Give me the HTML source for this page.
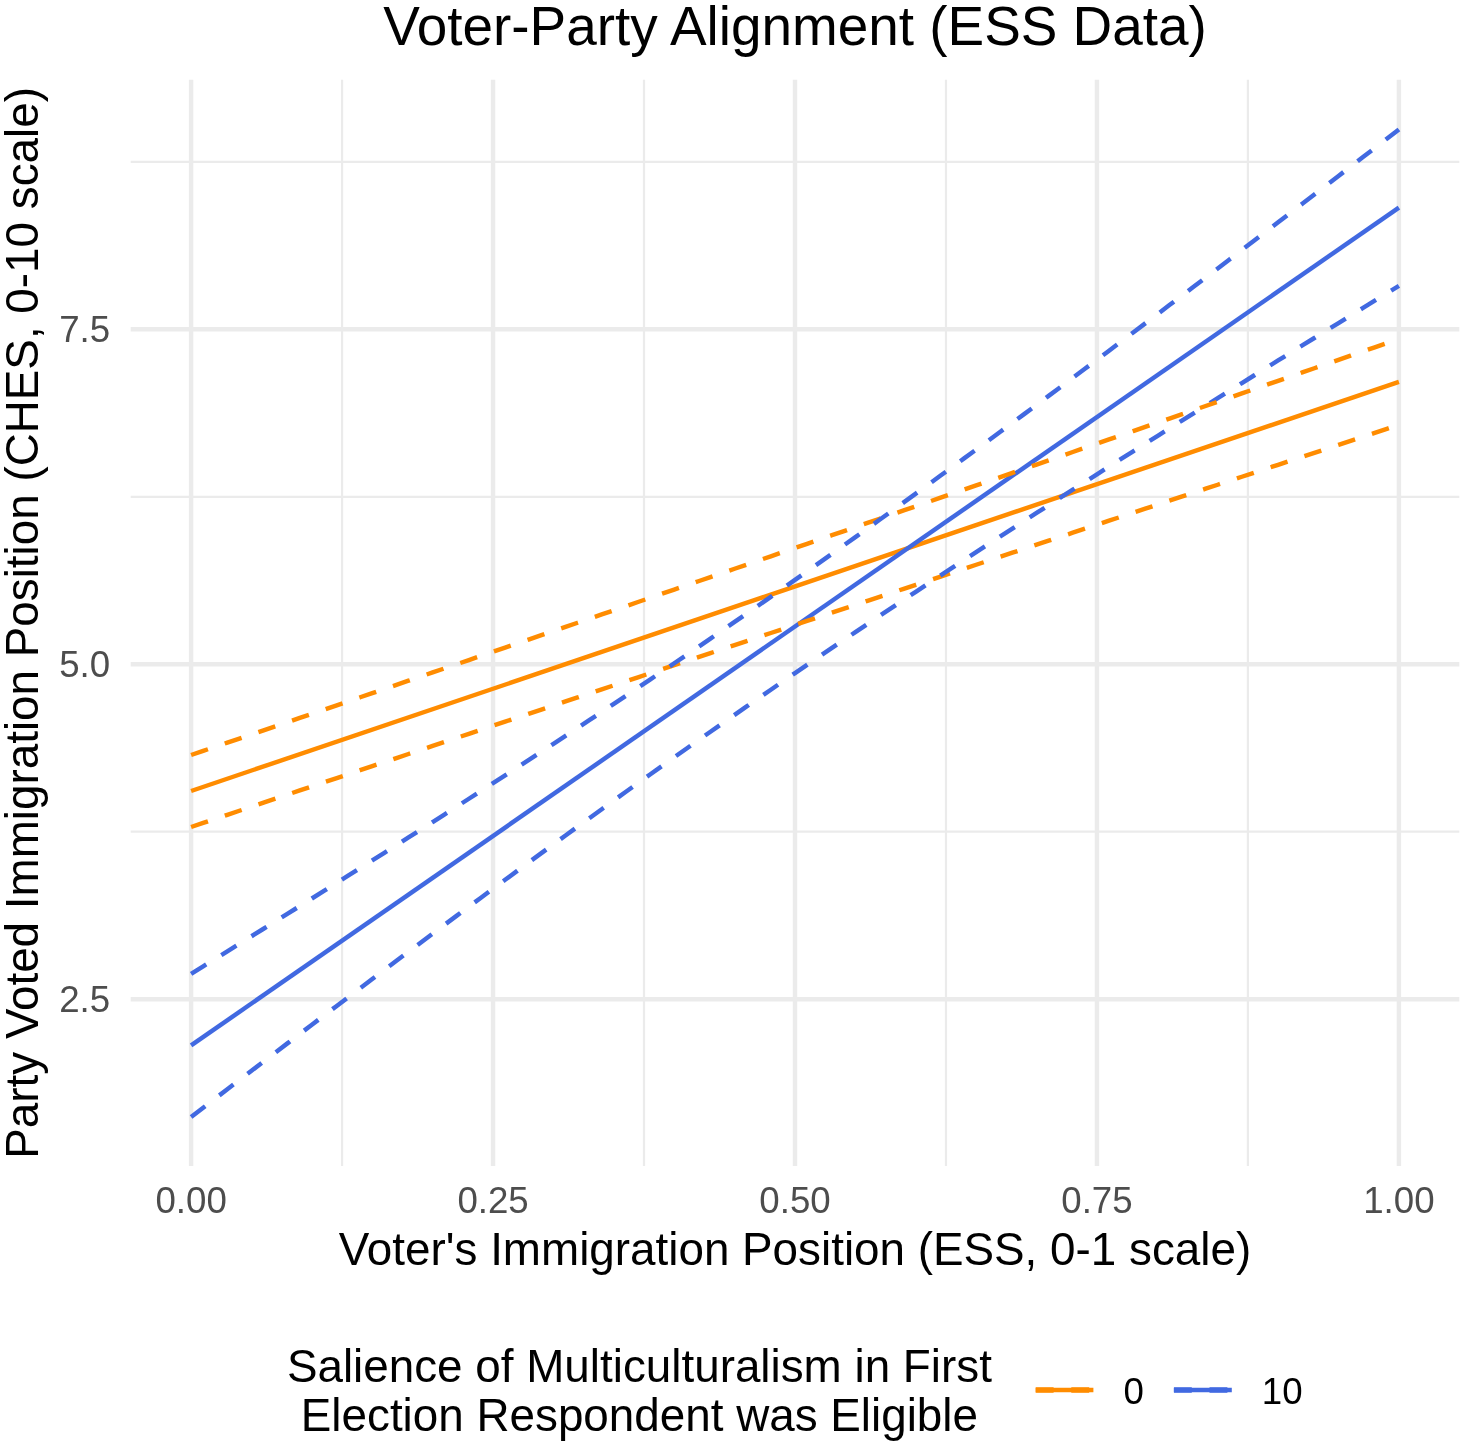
<!DOCTYPE html>
<html><head><meta charset="utf-8"><title>Voter-Party Alignment</title>
<style>html,body{margin:0;padding:0;background:#fff;}body{width:1464px;height:1445px;overflow:hidden;}svg{display:block;will-change:transform;}text{font-family:"Liberation Sans",sans-serif;}</style>
</head><body>
<svg width="1464" height="1445" viewBox="0 0 1464 1445">
<rect width="1464" height="1445" fill="#fff"/>
<g stroke="#EBEBEB" stroke-width="2.22" fill="none">
<line x1="130.70" x2="1459.30" y1="831.73" y2="831.73"/>
<line x1="130.70" x2="1459.30" y1="496.78" y2="496.78"/>
<line x1="130.70" x2="1459.30" y1="161.83" y2="161.83"/>
<line x1="342.07" x2="342.07" y1="79.80" y2="1166.00"/>
<line x1="644.02" x2="644.02" y1="79.80" y2="1166.00"/>
<line x1="945.98" x2="945.98" y1="79.80" y2="1166.00"/>
<line x1="1247.92" x2="1247.92" y1="79.80" y2="1166.00"/>
</g>
<g stroke="#EBEBEB" stroke-width="4.45" fill="none">
<line x1="130.70" x2="1459.30" y1="999.20" y2="999.20"/>
<line x1="130.70" x2="1459.30" y1="664.25" y2="664.25"/>
<line x1="130.70" x2="1459.30" y1="329.30" y2="329.30"/>
<line x1="191.10" x2="191.10" y1="79.80" y2="1166.00"/>
<line x1="493.05" x2="493.05" y1="79.80" y2="1166.00"/>
<line x1="795.00" x2="795.00" y1="79.80" y2="1166.00"/>
<line x1="1096.95" x2="1096.95" y1="79.80" y2="1166.00"/>
<line x1="1398.90" x2="1398.90" y1="79.80" y2="1166.00"/>
</g>
<g fill="none" stroke-width="4.45" stroke-linejoin="round">
<polyline stroke="#FF8C00" points="191.10,791.00 1398.90,381.90"/>
<polyline stroke="#4169E1" points="191.10,1045.40 1398.90,207.60"/>
<polyline stroke="#FF8C00" stroke-dasharray="17.78 17.78" points="191.10,827.00 203.18,822.94 215.26,818.87 227.33,814.81 239.41,810.75 251.49,806.69 263.57,802.63 275.65,798.57 287.72,794.52 299.80,790.46 311.88,786.40 323.96,782.35 336.04,778.30 348.11,774.24 360.19,770.19 372.27,766.14 384.35,762.09 396.43,758.04 408.50,754.00 420.58,749.95 432.66,745.90 444.74,741.86 456.82,737.82 468.89,733.77 480.97,729.73 493.05,725.69 505.13,721.65 517.21,717.61 529.28,713.57 541.36,709.53 553.44,705.50 565.52,701.46 577.60,697.43 589.67,693.39 601.75,689.36 613.83,685.33 625.91,681.30 637.99,677.27 650.06,673.24 662.14,669.21 674.22,665.18 686.30,661.15 698.38,657.13 710.45,653.10 722.53,649.08 734.61,645.05 746.69,641.03 758.77,637.01 770.84,632.99 782.92,628.97 795.00,624.95 807.08,620.93 819.16,616.91 831.23,612.89 843.31,608.88 855.39,604.86 867.47,600.85 879.55,596.83 891.62,592.82 903.70,588.81 915.78,584.79 927.86,580.78 939.94,576.77 952.01,572.76 964.09,568.76 976.17,564.75 988.25,560.74 1000.33,556.73 1012.40,552.73 1024.48,548.72 1036.56,544.72 1048.64,540.71 1060.72,536.71 1072.79,532.71 1084.87,528.71 1096.95,524.71 1109.03,520.71 1121.11,516.71 1133.18,512.71 1145.26,508.71 1157.34,504.71 1169.42,500.72 1181.50,496.72 1193.57,492.73 1205.65,488.73 1217.73,484.74 1229.81,480.74 1241.89,476.75 1253.96,472.76 1266.04,468.77 1278.12,464.78 1290.20,460.79 1302.28,456.80 1314.35,452.81 1326.43,448.82 1338.51,444.83 1350.59,440.84 1362.67,436.86 1374.74,432.87 1386.82,428.88 1398.90,424.90"/>
<polyline stroke="#4169E1" stroke-dasharray="17.78 17.78" points="191.10,1117.00 203.18,1107.73 215.26,1098.47 227.33,1089.22 239.41,1079.98 251.49,1070.75 263.57,1061.53 275.65,1052.31 287.72,1043.11 299.80,1033.92 311.88,1024.74 323.96,1015.57 336.04,1006.42 348.11,997.27 360.19,988.14 372.27,979.03 384.35,969.93 396.43,960.84 408.50,951.77 420.58,942.71 432.66,933.67 444.74,924.65 456.82,915.65 468.89,906.66 480.97,897.69 493.05,888.74 505.13,879.82 517.21,870.91 529.28,862.03 541.36,853.16 553.44,844.32 565.52,835.50 577.60,826.71 589.67,817.94 601.75,809.20 613.83,800.48 625.91,791.79 637.99,783.13 650.06,774.49 662.14,765.88 674.22,757.30 686.30,748.75 698.38,740.23 710.45,731.73 722.53,723.27 734.61,714.83 746.69,706.43 758.77,698.05 770.84,689.71 782.92,681.39 795.00,673.10 807.08,664.85 819.16,656.62 831.23,648.42 843.31,640.25 855.39,632.11 867.47,623.99 879.55,615.90 891.62,607.84 903.70,599.81 915.78,591.80 927.86,583.82 939.94,575.86 952.01,567.92 964.09,560.01 976.17,552.12 988.25,544.25 1000.33,536.41 1012.40,528.58 1024.48,520.78 1036.56,512.99 1048.64,505.22 1060.72,497.47 1072.79,489.74 1084.87,482.03 1096.95,474.33 1109.03,466.65 1121.11,458.98 1133.18,451.33 1145.26,443.69 1157.34,436.07 1169.42,428.46 1181.50,420.86 1193.57,413.27 1205.65,405.70 1217.73,398.14 1229.81,390.59 1241.89,383.04 1253.96,375.51 1266.04,367.99 1278.12,360.48 1290.20,352.97 1302.28,345.48 1314.35,337.99 1326.43,330.52 1338.51,323.04 1350.59,315.58 1362.67,308.13 1374.74,300.68 1386.82,293.23 1398.90,285.80"/>
<polyline stroke="#FF8C00" stroke-dasharray="17.78 17.78" points="191.10,755.00 203.18,750.88 215.26,746.76 227.33,742.64 239.41,738.52 251.49,734.40 263.57,730.28 275.65,726.15 287.72,722.03 299.80,717.90 311.88,713.78 323.96,709.65 336.04,705.52 348.11,701.39 360.19,697.26 372.27,693.13 384.35,689.00 396.43,684.86 408.50,680.73 420.58,676.59 432.66,672.46 444.74,668.32 456.82,664.18 468.89,660.04 480.97,655.90 493.05,651.76 505.13,647.62 517.21,643.48 529.28,639.33 541.36,635.19 553.44,631.04 565.52,626.90 577.60,622.75 589.67,618.60 601.75,614.45 613.83,610.30 625.91,606.15 637.99,602.00 650.06,597.85 662.14,593.69 674.22,589.54 686.30,585.39 698.38,581.23 710.45,577.07 722.53,572.92 734.61,568.76 746.69,564.60 758.77,560.44 770.84,556.28 782.92,552.12 795.00,547.95 807.08,543.79 819.16,539.63 831.23,535.46 843.31,531.30 855.39,527.13 867.47,522.96 879.55,518.79 891.62,514.63 903.70,510.46 915.78,506.29 927.86,502.11 939.94,497.94 952.01,493.77 964.09,489.60 976.17,485.42 988.25,481.25 1000.33,477.07 1012.40,472.90 1024.48,468.72 1036.56,464.54 1048.64,460.36 1060.72,456.18 1072.79,452.00 1084.87,447.82 1096.95,443.64 1109.03,439.46 1121.11,435.28 1133.18,431.09 1145.26,426.91 1157.34,422.73 1169.42,418.54 1181.50,414.36 1193.57,410.17 1205.65,405.98 1217.73,401.79 1229.81,397.60 1241.89,393.42 1253.96,389.23 1266.04,385.04 1278.12,380.84 1290.20,376.65 1302.28,372.46 1314.35,368.27 1326.43,364.07 1338.51,359.88 1350.59,355.68 1362.67,351.49 1374.74,347.29 1386.82,343.10 1398.90,338.90"/>
<polyline stroke="#4169E1" stroke-dasharray="17.78 17.78" points="191.10,973.80 203.18,966.31 215.26,958.81 227.33,951.31 239.41,943.79 251.49,936.27 263.57,928.74 275.65,921.19 287.72,913.64 299.80,906.08 311.88,898.50 323.96,890.91 336.04,883.31 348.11,875.70 360.19,868.07 372.27,860.43 384.35,852.78 396.43,845.11 408.50,837.42 420.58,829.72 432.66,822.01 444.74,814.27 456.82,806.52 468.89,798.75 480.97,790.96 493.05,783.16 505.13,775.33 517.21,767.48 529.28,759.61 541.36,751.71 553.44,743.80 565.52,735.86 577.60,727.90 589.67,719.91 601.75,711.90 613.83,703.86 625.91,695.79 637.99,687.70 650.06,679.58 662.14,671.43 674.22,663.26 686.30,655.05 698.38,646.82 710.45,638.56 722.53,630.27 734.61,621.95 746.69,613.59 758.77,605.21 770.84,596.80 782.92,588.36 795.00,579.90 807.08,571.40 819.16,562.87 831.23,554.31 843.31,545.73 855.39,537.11 867.47,528.47 879.55,519.80 891.62,511.11 903.70,502.39 915.78,493.64 927.86,484.87 939.94,476.07 952.01,467.25 964.09,458.41 976.17,449.54 988.25,440.65 1000.33,431.74 1012.40,422.81 1024.48,413.86 1036.56,404.89 1048.64,395.90 1060.72,386.89 1072.79,377.87 1084.87,368.83 1096.95,359.77 1109.03,350.69 1121.11,341.60 1133.18,332.50 1145.26,323.38 1157.34,314.25 1169.42,305.10 1181.50,295.95 1193.57,286.78 1205.65,277.60 1217.73,268.40 1229.81,259.20 1241.89,249.98 1253.96,240.76 1266.04,231.53 1278.12,222.28 1290.20,213.03 1302.28,203.77 1314.35,194.50 1326.43,185.22 1338.51,175.94 1350.59,166.64 1362.67,157.34 1374.74,148.04 1386.82,138.72 1398.90,129.40"/>
</g>
<text x="795" y="44.9" font-size="54.9" text-anchor="middle" fill="#000">Voter-Party Alignment (ESS Data)</text>
<text x="795" y="1264.6" font-size="45.8" text-anchor="middle" fill="#000">Voter's Immigration Position (ESS, 0-1 scale)</text>
<text transform="translate(38.0,622.9) rotate(-90)" font-size="45.8" text-anchor="middle" fill="#000">Party Voted Immigration Position (CHES, 0-10 scale)</text>
<g font-size="36.67" fill="#4D4D4D" text-anchor="middle">
<text x="191.10" y="1213.4">0.00</text>
<text x="493.05" y="1213.4">0.25</text>
<text x="795.00" y="1213.4">0.50</text>
<text x="1096.95" y="1213.4">0.75</text>
<text x="1398.90" y="1213.4">1.00</text>
</g>
<g font-size="36.67" fill="#4D4D4D" text-anchor="end">
<text x="110.1" y="1012.30">2.5</text>
<text x="110.1" y="677.35">5.0</text>
<text x="110.1" y="342.40">7.5</text>
</g>
<g font-size="45.8" fill="#000" text-anchor="middle">
<text x="639.4" y="1381.7">Salience of Multiculturalism in First</text>
<text x="639.4" y="1430.8">Election Respondent was Eligible</text>
</g>
<g fill="none" stroke-width="4.45">
<line x1="1035.7" x2="1093.4" y1="1390.0" y2="1390.0" stroke="#FF8C00"/>
<line x1="1173.9" x2="1231.8" y1="1390.0" y2="1390.0" stroke="#4169E1"/>
</g>
<g fill="none" stroke-width="5.4" stroke-dasharray="17.9 17.7">
<line x1="1035.7" x2="1093.4" y1="1390.0" y2="1390.0" stroke="#FF8C00"/>
<line x1="1173.9" x2="1231.8" y1="1390.0" y2="1390.0" stroke="#4169E1"/>
</g>
<g font-size="36.67" fill="#000">
<text x="1123.6" y="1403.6">0</text>
<text x="1261.8" y="1403.6">10</text>
</g>
</svg></body></html>
